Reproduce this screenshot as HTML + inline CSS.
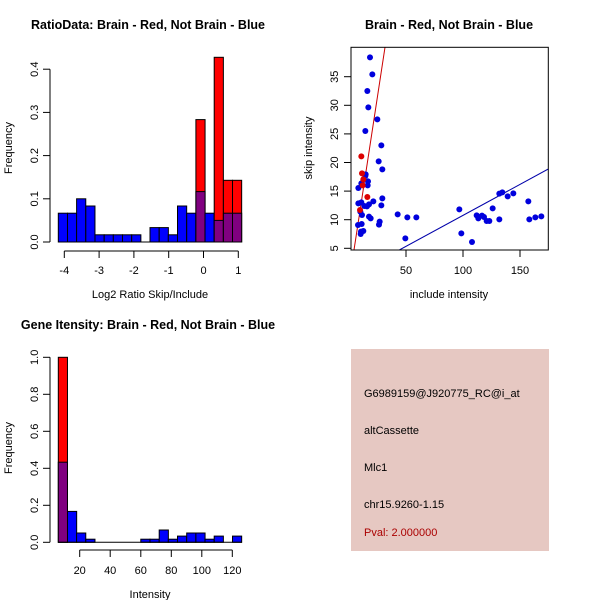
<!DOCTYPE html>
<html><head><style>body{margin:0;background:#fff}svg{display:block}text{font-family:"Liberation Sans",sans-serif;font-size:11px;fill:#000}.t{font-size:12.5px;font-weight:bold}</style></head><body>
<svg width="600" height="600" xmlns="http://www.w3.org/2000/svg">
<rect width="600" height="600" fill="#fff"/>
<!-- Top-left -->
<text class="t" x="148" y="29" text-anchor="middle">RatioData: Brain - Red, Not Brain - Blue</text>
<g stroke="#000" stroke-width="1">
<rect x="58.3" y="213.2" width="9.17" height="28.8" fill="#0000ff"/>
<rect x="67.5" y="213.2" width="9.17" height="28.8" fill="#0000ff"/>
<rect x="76.6" y="198.8" width="9.17" height="43.2" fill="#0000ff"/>
<rect x="85.8" y="206" width="9.17" height="36" fill="#0000ff"/>
<rect x="95" y="234.8" width="9.17" height="7.2" fill="#0000ff"/>
<rect x="104.2" y="234.8" width="9.17" height="7.2" fill="#0000ff"/>
<rect x="113.3" y="234.8" width="9.17" height="7.2" fill="#0000ff"/>
<rect x="122.5" y="234.8" width="9.17" height="7.2" fill="#0000ff"/>
<rect x="131.7" y="234.8" width="9.17" height="7.2" fill="#0000ff"/>
<rect x="150" y="227.6" width="9.17" height="14.4" fill="#0000ff"/>
<rect x="159.2" y="227.6" width="9.17" height="14.4" fill="#0000ff"/>
<rect x="168.3" y="234.8" width="9.17" height="7.2" fill="#0000ff"/>
<rect x="177.5" y="206" width="9.17" height="36" fill="#0000ff"/>
<rect x="186.7" y="213.2" width="9.17" height="28.8" fill="#0000ff"/>
<rect x="195.9" y="119.6" width="9.17" height="122.4" fill="#ff0000"/>
<rect x="195.9" y="191.6" width="9.17" height="50.4" fill="#800080"/>
<rect x="205" y="213.2" width="9.17" height="28.8" fill="#0000ff"/>
<rect x="214.2" y="57.3" width="9.17" height="184.7" fill="#ff0000"/>
<rect x="214.2" y="220.4" width="9.17" height="21.6" fill="#800080"/>
<rect x="223.4" y="180.3" width="9.17" height="61.7" fill="#ff0000"/>
<rect x="223.4" y="213.2" width="9.17" height="28.8" fill="#800080"/>
<rect x="232.5" y="180.3" width="9.17" height="61.7" fill="#ff0000"/>
<rect x="232.5" y="213.2" width="9.17" height="28.8" fill="#800080"/>
<line x1="58" y1="242" x2="242" y2="242"/>
<line x1="50" y1="242" x2="50" y2="69.2"/>
<line x1="43" y1="242" x2="50" y2="242"/><line x1="43" y1="198.8" x2="50" y2="198.8"/><line x1="43" y1="155.6" x2="50" y2="155.6"/><line x1="43" y1="112.4" x2="50" y2="112.4"/><line x1="43" y1="69.2" x2="50" y2="69.2"/>
<line x1="64.3" y1="251" x2="238.3" y2="251"/>
<line x1="64.3" y1="251" x2="64.3" y2="258"/><line x1="99.1" y1="251" x2="99.1" y2="258"/><line x1="133.9" y1="251" x2="133.9" y2="258"/><line x1="168.7" y1="251" x2="168.7" y2="258"/><line x1="203.5" y1="251" x2="203.5" y2="258"/><line x1="238.3" y1="251" x2="238.3" y2="258"/>
</g>
<g text-anchor="middle">
<text transform="translate(38,242) rotate(-90)">0.0</text>
<text transform="translate(38,198.8) rotate(-90)">0.1</text>
<text transform="translate(38,155.6) rotate(-90)">0.2</text>
<text transform="translate(38,112.4) rotate(-90)">0.3</text>
<text transform="translate(38,69.2) rotate(-90)">0.4</text>
<text x="64.3" y="274">-4</text><text x="99.1" y="274">-3</text><text x="133.9" y="274">-2</text><text x="168.7" y="274">-1</text><text x="203.5" y="274">0</text><text x="238.3" y="274">1</text>
<text x="150" y="298">Log2 Ratio Skip/Include</text>
<text transform="translate(12,148) rotate(-90)">Frequency</text>
</g>
<!-- Top-right -->
<text class="t" x="449" y="29" text-anchor="middle">Brain - Red, Not Brain - Blue</text>
<defs><clipPath id="c"><rect x="351" y="47.3" width="197.3" height="202.7"/></clipPath></defs>
<g clip-path="url(#c)">
<g transform="translate(300,40) scale(0.33333)">
<line x1="162" y1="630" x2="255" y2="22" stroke="#cc0000" stroke-width="3"/>
<line x1="298" y1="630" x2="745" y2="387" stroke="#0000aa" stroke-width="3"/>
<g fill="#0000dd">
<circle cx="210" cy="52" r="9"/><circle cx="217" cy="103" r="9"/><circle cx="202" cy="153" r="9"/><circle cx="205" cy="202" r="9"/><circle cx="232" cy="238" r="9"/><circle cx="196" cy="273" r="9"/><circle cx="244" cy="316" r="9"/><circle cx="236" cy="364" r="9"/><circle cx="247" cy="388" r="9"/><circle cx="175" cy="444" r="9"/><circle cx="197" cy="403" r="9"/><circle cx="204" cy="424" r="9"/><circle cx="203" cy="436" r="9"/><circle cx="184" cy="430" r="9"/><circle cx="175" cy="490" r="9"/><circle cx="184" cy="487" r="9"/><circle cx="220" cy="484" r="9"/><circle cx="207" cy="493" r="9"/><circle cx="201" cy="499" r="9"/><circle cx="193" cy="498" r="9"/><circle cx="181" cy="515" r="9"/><circle cx="186" cy="525" r="9"/><circle cx="207" cy="530" r="9"/><circle cx="212" cy="535" r="9"/><circle cx="239" cy="545" r="9"/><circle cx="237" cy="554" r="9"/><circle cx="185" cy="552" r="9"/><circle cx="174" cy="555" r="9"/><circle cx="183" cy="575" r="9"/><circle cx="190" cy="573" r="9"/><circle cx="182" cy="582" r="9"/><circle cx="244" cy="496" r="9"/><circle cx="247" cy="475" r="9"/><circle cx="293" cy="523" r="9"/><circle cx="322" cy="532" r="9"/><circle cx="349" cy="532" r="9"/><circle cx="316" cy="595" r="9"/><circle cx="478" cy="508" r="9"/><circle cx="484" cy="580" r="9"/><circle cx="516" cy="606" r="9"/><circle cx="530" cy="526" r="9"/><circle cx="535" cy="535" r="9"/><circle cx="546" cy="527" r="9"/><circle cx="552" cy="531" r="9"/><circle cx="560" cy="543" r="9"/><circle cx="568" cy="543" r="9"/><circle cx="578" cy="505" r="9"/><circle cx="598" cy="461" r="9"/><circle cx="607" cy="457" r="9"/><circle cx="623" cy="469" r="9"/><circle cx="640" cy="460" r="9"/><circle cx="598" cy="538" r="9"/><circle cx="685" cy="484" r="9"/><circle cx="688" cy="538" r="9"/><circle cx="706" cy="532" r="9"/><circle cx="724" cy="529" r="9"/><circle cx="196" cy="408" r="9"/>
</g>
<g fill="#dd0000">
<circle cx="184" cy="349" r="9"/><circle cx="186" cy="400" r="9"/><circle cx="190" cy="418" r="9"/><circle cx="188" cy="436" r="9"/><circle cx="202" cy="471" r="9"/><circle cx="180" cy="510" r="9"/>
</g>
</g>
</g>
<g stroke="#000" stroke-width="1" fill="none">
<rect x="351" y="47.3" width="197.3" height="202.7"/>
<line x1="344" y1="248.3" x2="351" y2="248.3"/><line x1="344" y1="219.7" x2="351" y2="219.7"/><line x1="344" y1="191.1" x2="351" y2="191.1"/><line x1="344" y1="162.5" x2="351" y2="162.5"/><line x1="344" y1="133.9" x2="351" y2="133.9"/><line x1="344" y1="105.3" x2="351" y2="105.3"/><line x1="344" y1="76.7" x2="351" y2="76.7"/>
<line x1="406" y1="250" x2="406" y2="257"/><line x1="463" y1="250" x2="463" y2="257"/><line x1="520" y1="250" x2="520" y2="257"/>
</g>
<g text-anchor="middle">
<text transform="translate(338,248.3) rotate(-90)">5</text>
<text transform="translate(338,219.7) rotate(-90)">10</text>
<text transform="translate(338,191.1) rotate(-90)">15</text>
<text transform="translate(338,162.5) rotate(-90)">20</text>
<text transform="translate(338,133.9) rotate(-90)">25</text>
<text transform="translate(338,105.3) rotate(-90)">30</text>
<text transform="translate(338,76.7) rotate(-90)">35</text>
<text x="406" y="274">50</text><text x="463" y="274">100</text><text x="520" y="274">150</text>
<text x="449" y="298">include intensity</text>
<text transform="translate(312,148) rotate(-90)">skip intensity</text>
</g>
<!-- Bottom-left -->
<text class="t" x="148" y="329" text-anchor="middle">Gene Itensity: Brain - Red, Not Brain - Blue</text>
<g stroke="#000" stroke-width="1">
<rect x="58.3" y="357.3" width="9.17" height="185" fill="#ff0000"/>
<rect x="58.3" y="462.2" width="9.17" height="80.1" fill="#800080"/>
<rect x="67.5" y="511.4" width="9.17" height="30.9" fill="#0000ff"/>
<rect x="76.6" y="533" width="9.17" height="9.3" fill="#0000ff"/>
<rect x="85.8" y="539.2" width="9.17" height="3.1" fill="#0000ff"/>
<rect x="140.8" y="539.2" width="9.17" height="3.1" fill="#0000ff"/>
<rect x="150" y="539.2" width="9.17" height="3.1" fill="#0000ff"/>
<rect x="159.2" y="530" width="9.17" height="12.3" fill="#0000ff"/>
<rect x="168.3" y="539.2" width="9.17" height="3.1" fill="#0000ff"/>
<rect x="177.5" y="536.1" width="9.17" height="6.2" fill="#0000ff"/>
<rect x="186.7" y="533" width="9.17" height="9.3" fill="#0000ff"/>
<rect x="195.9" y="533" width="9.17" height="9.3" fill="#0000ff"/>
<rect x="205" y="539.2" width="9.17" height="3.1" fill="#0000ff"/>
<rect x="214.2" y="536.1" width="9.17" height="6.2" fill="#0000ff"/>
<rect x="232.5" y="536.1" width="9.17" height="6.2" fill="#0000ff"/>
<line x1="58" y1="542.3" x2="242" y2="542.3"/>
<line x1="50" y1="542.3" x2="50" y2="357.3"/>
<line x1="43" y1="542.3" x2="50" y2="542.3"/><line x1="43" y1="505.3" x2="50" y2="505.3"/><line x1="43" y1="468.3" x2="50" y2="468.3"/><line x1="43" y1="431.3" x2="50" y2="431.3"/><line x1="43" y1="394.3" x2="50" y2="394.3"/><line x1="43" y1="357.3" x2="50" y2="357.3"/>
<line x1="79.7" y1="550" x2="232.3" y2="550"/>
<line x1="79.7" y1="550" x2="79.7" y2="557"/><line x1="110.2" y1="550" x2="110.2" y2="557"/><line x1="140.8" y1="550" x2="140.8" y2="557"/><line x1="171.3" y1="550" x2="171.3" y2="557"/><line x1="201.8" y1="550" x2="201.8" y2="557"/><line x1="232.3" y1="550" x2="232.3" y2="557"/>
</g>
<g text-anchor="middle">
<text transform="translate(38,542.3) rotate(-90)">0.0</text>
<text transform="translate(38,505.3) rotate(-90)">0.2</text>
<text transform="translate(38,468.3) rotate(-90)">0.4</text>
<text transform="translate(38,431.3) rotate(-90)">0.6</text>
<text transform="translate(38,394.3) rotate(-90)">0.8</text>
<text transform="translate(38,357.3) rotate(-90)">1.0</text>
<text x="79.7" y="574">20</text><text x="110.2" y="574">40</text><text x="140.8" y="574">60</text><text x="171.3" y="574">80</text><text x="201.8" y="574">100</text><text x="232.3" y="574">120</text>
<text x="150" y="598">Intensity</text>
<text transform="translate(12,448) rotate(-90)">Frequency</text>
</g>
<!-- Bottom-right -->
<rect x="351" y="349" width="198" height="202" fill="#e6c8c2"/>
<text x="364" y="397">G6989159@J920775_RC@i_at</text>
<text x="364" y="434">altCassette</text>
<text x="364" y="471">Mlc1</text>
<text x="364" y="508">chr15.9260-1.15</text>
<text x="364" y="536" style="fill:#aa0000">Pval: 2.000000</text>
</svg>
</body></html>
